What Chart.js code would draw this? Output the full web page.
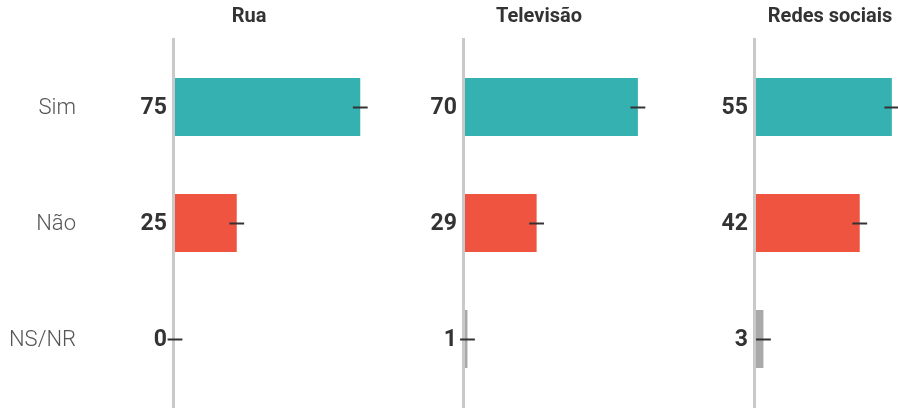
<!DOCTYPE html>
<html>
<head>
<meta charset="utf-8">
<script src="https://cdn.jsdelivr.net/npm/chart.js@4"></script>
<style>
  html, body { margin: 0; padding: 0; background: #fff; overflow: hidden; }
  #wrap { position: relative; width: 898px; height: 408px; overflow: hidden; }
  #wrap canvas { position: absolute; top: 0; }
</style>
</head>
<body>
<div id="wrap">
  <canvas id="c0" width="422" height="408" style="left:0px"></canvas>
  <canvas id="c1" width="422" height="408" style="left:290px"></canvas>
  <canvas id="c2" width="422" height="408" style="left:581px"></canvas>
</div>
<script>
(() => {
    // respostas e paineis
    const categorias = ['Sim', 'Não', 'NS/NR'];
    const paineis = ['Rua', 'Televisão', 'Redes sociais'];
    const rua = [75, 25, 0];
    const televisao = [70, 29, 1];
    const redes = [55, 42, 3];
    const margemErro = 3;

    const series = [rua, televisao, redes];
    const cores = ['#35b1b1', '#ee5440', '#a9a9a9'];

    const desenho = {
        id: 'desenho',
        afterDatasetsDraw(chart, args, opts) {
            const { ctx, chartArea } = chart;
            const x = chart.scales.x;
            const y = chart.scales.y;
            const valores = chart.data.datasets[0].data;
            ctx.save();

            // linha do eixo
            ctx.fillStyle = '#c9c9c9';
            ctx.fillRect(chartArea.left - 3, 38, 3, 370);

            // barras de erro
            ctx.strokeStyle = '#333';
            ctx.lineWidth = 2;
            valores.forEach((v, i) => {
                const py = Math.round(y.getPixelForValue(i)) + 0.5;
                ctx.beginPath();
                ctx.moveTo(x.getPixelForValue(v - margemErro), py);
                ctx.lineTo(x.getPixelForValue(v + margemErro), py);
                ctx.stroke();
            });

            // valores
            ctx.fillStyle = '#333';
            ctx.font = 'bold 23px Roboto';
            ctx.textAlign = 'right';
            ctx.textBaseline = 'middle';
            valores.forEach((v, i) => {
                ctx.fillText(String(v), chartArea.left - 8, y.getPixelForValue(i) + 1);
            });

            // categorias, so no primeiro painel
            if (opts.categorias) {
                ctx.fillStyle = '#555';
                ctx.font = '300 22px Roboto';
                chart.data.labels.forEach((c, i) => {
                    ctx.fillText(c, 76, y.getPixelForValue(i) + 1);
                });
            }

            // titulo
            ctx.fillStyle = '#333';
            ctx.font = 'bold 20px Roboto';
            ctx.textAlign = 'center';
            ctx.fillText(opts.titulo, chartArea.left + 74, 17);
            ctx.restore();
        }
    };

    series.forEach((dados, k) => {
        new Chart(document.getElementById('c' + k), {
            type: 'bar',
            data: {
                labels: categorias,
                datasets: [{
                    data: dados,
                    backgroundColor: cores,
                    categoryPercentage: 1,
                    barPercentage: 0.5
                }]
            },
            options: {
                indexAxis: 'y',
                responsive: false,
                animation: false,
                layout: { padding: { left: 175, top: 49, bottom: 11, right: 0 } },
                scales: {
                    x: { display: false, min: 0, max: 100 },
                    y: { display: false }
                },
                plugins: {
                    legend: { display: false },
                    tooltip: { enabled: false },
                    desenho: { titulo: paineis[k], categorias: k === 0 }
                }
            },
            plugins: [desenho]
        });
    });
})();
</script>
</body>
</html>
